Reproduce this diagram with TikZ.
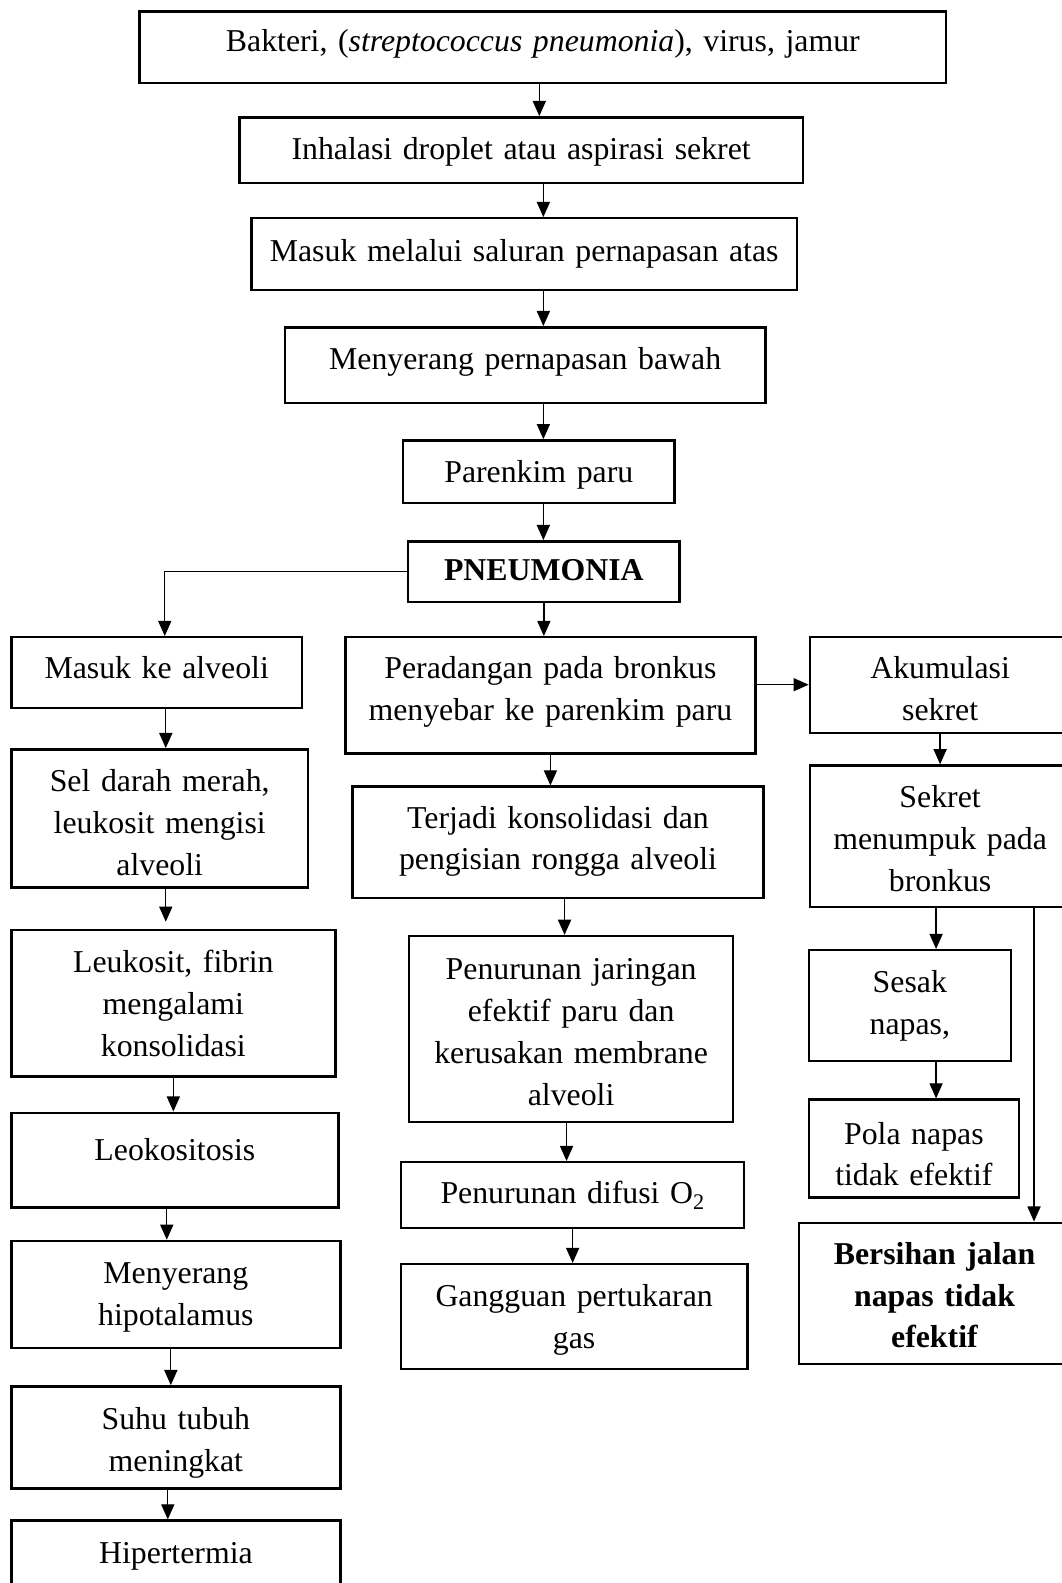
\documentclass[tikz,border=0pt]{standalone}
\usepackage{fontspec}
\setmainfont{Liberation Serif}
\usetikzlibrary{arrows.meta}

\begin{document}
\begin{tikzpicture}[
    x=1pt, y=-1pt,
    box/.style n args={3}{rectangle, draw=black, line width=2.4pt, inner sep=0pt, anchor=north west, align=center,
                          font=\fontsize{31.5}{41.5}\selectfont, text width=#1pt, text height=#2pt, text depth=#3pt},
    arr/.style={-{Triangle[length=15pt, width=13pt]}, line width=1.3pt},
    ]
        \useasboundingbox (0,0) rectangle (1051,1568);

        % main chain
        \node[box={799}{40}{31}] (B1) at (137,10) {Bakteri, (\textit{streptococcus pneumonia}), virus, jamur};
        \node[box={558}{42}{23}] (B2) at (236,115) {Inhalasi droplet atau aspirasi sekret};
        \node[box={540}{43}{28}] (B3) at (248,215) {Masuk melalui saluran pernapasan atas};
        \node[box={476}{42}{33}] (B4) at (281,323) {Menyerang pernapasan bawah};
        \node[box={269}{42}{20}] (B5) at (398,435) {Parenkim paru};
        \node[box={269}{39}{21}] (B6) at (403,535) {\textbf{PNEUMONIA}};

        % left column
        \node[box={288}{41}{29}] (L1) at (10,630) {Masuk ke alveoli};
        \node[box={294}{42}{95}] (L2) at (10,741) {Sel darah merah,\\ leukosit mengisi\\ alveoli};
        \node[box={321}{42}{103}] (L3) at (10,920) {Leukosit, fibrin\\ mengalami\\ konsolidasi};
        \node[box={324}{47}{47}] (L4) at (10,1101) {Leokositosis};
        \node[box={326}{42}{64}] (L5) at (10,1228) {Menyerang\\ hipotalamus};
        \node[box={326}{43}{58}] (L6) at (10,1372) {Suhu tubuh\\ meningkat};
        \node[box={326}{42}{40}] (L7) at (10,1505) {Hipertermia};

        % middle column
        \node[box={406}{41}{74}] (M1) at (341,630) {Peradangan pada bronkus\\ menyebar ke parenkim paru};
        \node[box={407}{41}{69}] (M2) at (348,778) {Terjadi konsolidasi dan\\ pengisian rongga alveoli};
        \node[box={321}{43}{141}] (M3) at (404,926) {Penurunan jaringan\\ efektif paru dan\\ kerusakan membrane\\ alveoli};
        \node[box={340}{41}{24}] (M4) at (396,1150) {Penurunan difusi O\textsubscript{2}};
        \node[box={343}{42}{62}] (M5) at (396,1251) {Gangguan pertukaran\\ gas};

        % right column
        \node[box={258}{41}{54}] (R1) at (801,630) {Akumulasi\\ sekret};
        \node[box={258}{42}{98}] (R2) at (801,757) {Sekret\\ menumpuk pada\\ bronkus};
        \node[box={200}{42}{68}] (R3) at (800,940) {Sesak\\ napas,};
        \node[box={208}{44}{53}] (R4) at (800,1088) {Pola napas\\ tidak efektif};
        \node[box={269}{41}{99}] (R5) at (790,1210) {\textbf{Bersihan jalan}\\ \textbf{napas tidak}\\ \textbf{efektif}};

        \draw[arr] ([xshift=-3.5pt]B1.south) -- ([xshift=-3.5pt]B1.south |- B2.north);
        \draw[arr] ([xshift=22pt]B2.south) -- ([xshift=22pt]B2.south |- B3.north);
        \draw[arr] ([xshift=19pt]B3.south) -- ([xshift=19pt]B3.south |- B4.north);
        \draw[arr] ([xshift=18pt]B4.south) -- ([xshift=18pt]B4.south |- B5.north);
        \draw[arr] ([xshift=4.5pt]B5.south) -- ([xshift=4.5pt]B5.south |- B6.north);
        \draw[arr] (B6.south) -- (B6.south |- M1.north);
        \draw[arr] (B6.west) -| ([xshift=8pt]L1.north);

        \draw[arr] ([xshift=9pt]L1.south) -- ([xshift=9pt]L1.south |- L2.north);
        \draw[arr, shorten >=7pt] ([xshift=6pt]L2.south) -- ([xshift=6pt]L2.south |- L3.north);
        \draw[arr] (L3.south) -- (L3.south |- L4.north);
        \draw[arr] ([xshift=-8pt]L4.south) -- ([xshift=-8pt]L4.south |- L5.north);
        \draw[arr] ([xshift=-5pt]L5.south) -- ([xshift=-5pt]L5.south |- L6.north);
        \draw[arr] ([xshift=-8pt]L6.south) -- ([xshift=-8pt]L6.south |- L7.north);

        \draw[arr] (M1.south) -- (M1.south |- M2.north);
        \draw[arr] ([xshift=6.5pt]M2.south) -- ([xshift=6.5pt]M2.south |- M3.north);
        \draw[arr] ([xshift=-4.5pt]M3.south) -- ([xshift=-4.5pt]M3.south |- M4.north);
        \draw[arr] (M4.south) -- (M4.south |- M5.north);

        \draw[arr] ([yshift=10.5pt]M1.east) -- ([yshift=10.5pt]M1.east -| R1.west);
        \draw[arr] (R1.south) -- (R1.south |- R2.north);
        \draw[arr] ([xshift=-4pt]R2.south) -- ([xshift=-4pt]R2.south |- R3.north);
        \draw[arr] ([xshift=26pt]R3.south) -- ([xshift=26pt]R3.south |- R4.north);
        \draw[arr] ([xshift=93pt]R2.south) -- ([xshift=93pt]R2.south |- R5.north);
    \end{tikzpicture}
\end{document}
